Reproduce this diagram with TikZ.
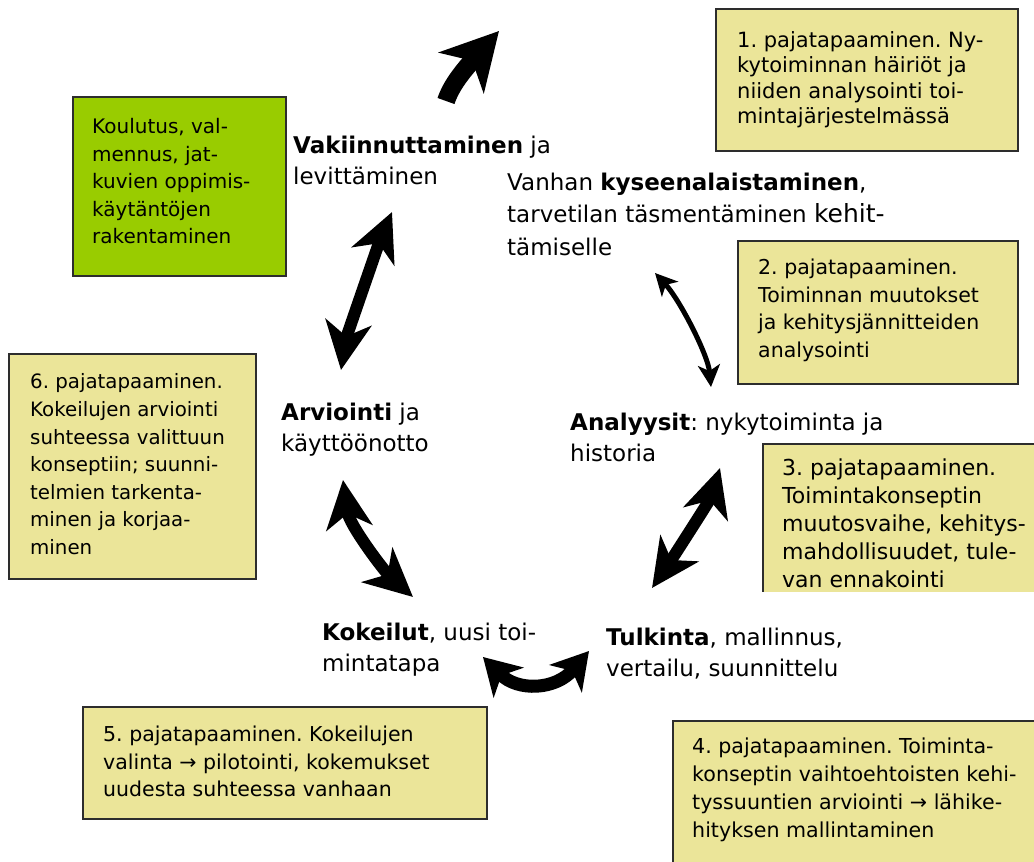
\documentclass[tikz,border=0pt]{standalone}
\usepackage{fontspec}
\setmainfont{DejaVu Sans}
\usetikzlibrary{arrows.meta}
\frenchspacing

\definecolor{boxyellow}{RGB}{235,229,153}
\definecolor{boxgreen}{RGB}{153,204,0}
\definecolor{boxline}{RGB}{45,45,45}

\begin{document}
\begin{tikzpicture}[
    x=1pt, y=-1pt,
    meeting/.style={draw=boxline, line width=1.6pt, fill=boxyellow, anchor=north west, inner sep=0pt},
    training/.style={meeting, fill=boxgreen},
    boxtext/.style={anchor=west, inner sep=0pt, align=left},
    phase/.style={anchor=base west, inner sep=0pt, align=left,
      font=\fontsize{23}{31}\selectfont},
    bigarrow/.style={line width=12pt,
      {Stealth[length=48pt,width=46pt,inset=14pt]}-{Stealth[length=48pt,width=46pt,inset=14pt]}},
    shortarrow/.style={line width=13pt,
      {Stealth[length=36pt,width=42pt,inset=10pt]}-{Stealth[length=36pt,width=42pt,inset=10pt]}},
    thinarrow/.style={line width=5pt,
      {Stealth[length=22pt,width=22pt,inset=6pt]}-{Stealth[length=22pt,width=22pt,inset=6pt]}},
    onearrow/.style={line width=18pt, -{Stealth[length=56pt,width=60pt,inset=16pt]}}
  ]
  \useasboundingbox (0,0) rectangle (1034,862);

  % pajatapaamiset
  \node[meeting, minimum width=302pt, minimum height=142pt] (m1) at (715,8) {};
  \node[boxtext, font=\fontsize{21}{25.5}\selectfont] (m1t) at ([xshift=22pt]m1.west)
    {1. pajatapaaminen. Ny-\\kytoiminnan häiriöt ja\\niiden analysointi toi-\\mintajärjestelmässä};

  \node[meeting, minimum width=280pt, minimum height=143pt] (m2) at (737,240) {};
  \node[boxtext, font=\fontsize{20.5}{27.5}\selectfont] (m2t) at ([xshift=21pt, yshift=2pt]m2.west)
    {2. pajatapaaminen.\\Toiminnan muutokset\\ja kehitysjännitteiden\\analysointi};

  \begin{scope}
    \clip (740,430) rectangle (1040,591);
    \node[meeting, minimum width=290pt, minimum height=170pt] (m3) at (762,443) {};
    \node[boxtext, font=\fontsize{22}{28}\selectfont] (m3t) at (782,523)
      {3. pajatapaaminen.\\Toimintakonseptin\\muutosvaihe, kehitys-\\mahdollisuudet, tule-\\van ennakointi};
  \end{scope}

  \node[meeting, minimum width=380pt, minimum height=160pt] (m4) at (672,720) {};
  \node[boxtext, font=\fontsize{20.6}{28}\selectfont] (m4t) at (692,790)
    {4. pajatapaaminen. Toiminta-\\konseptin vaihtoehtoisten kehi-\\tyssuuntien arviointi → lähike-\\hityksen mallintaminen};

  \node[meeting, minimum width=404pt, minimum height=112pt] (m5) at (82,706) {};
  \node[boxtext, font=\fontsize{20.5}{27.5}\selectfont] (m5t) at ([xshift=21pt, yshift=1pt]m5.west)
    {5. pajatapaaminen. Kokeilujen\\valinta → pilotointi, kokemukset\\uudesta suhteessa vanhaan};

  \node[meeting, minimum width=247pt, minimum height=225pt] (m6) at (8,353) {};
  \node[boxtext, font=\fontsize{19.8}{27.6}\selectfont] (m6t) at ([xshift=22pt, yshift=2pt]m6.west)
    {6. pajatapaaminen.\\Kokeilujen arviointi\\suhteessa valittuun\\konseptiin; suunni-\\telmien tarkenta-\\minen ja korjaa-\\minen};

  \node[training, minimum width=213pt, minimum height=179pt] (train) at (72,96) {};
  \node[boxtext, font=\fontsize{20}{27.5}\selectfont] (traint) at ([xshift=20pt, yshift=5pt]train.west)
    {Koulutus, val-\\mennus, jat-\\kuvien oppimis-\\käytäntöjen\\rakentaminen};

  % syklin vaiheet
  \node[phase] (vak) at (293,184) {\textbf{Vakiinnuttaminen} ja\\levittäminen};
  \node[phase, font=\fontsize{23}{32.5}\selectfont] (van) at (507,255)
    {Vanhan \textbf{kyseenalaistaminen},\\tarvetilan täsmentäminen {\fontsize{25}{32.5}\selectfont kehit-}\\tämiselle};
  \node[phase] (ana) at (570,461) {\textbf{Analyysit}: nykytoiminta ja\\historia};
  \node[phase] (tul) at (606,676) {\textbf{Tulkinta}, mallinnus,\\vertailu, suunnittelu};
  \node[phase] (kok) at (322,671) {\textbf{Kokeilut}, uusi toi-\\mintatapa};
  \node[phase] (arv) at (281,451) {\textbf{Arviointi} ja\\käyttöönotto};

  % nuolten päät
  \coordinate (up0) at (446,101);
  \coordinate (up1) at (499,31);
  \coordinate (vakS) at (392,212);
  \coordinate (arvN) at (341,370);
  \coordinate (vanS) at (655,273);
  \coordinate (anaN) at (711,387);
  \coordinate (anaS) at (720,468);
  \coordinate (tulN) at (652,588);
  \coordinate (tulW) at (589,651);
  \coordinate (kokE) at (483,657);
  \coordinate (arvS) at (343,480);
  \coordinate (kokN) at (413,597);

  \draw[onearrow] (up0) .. controls (451,86) and (462,72) .. (up1);
  \draw[bigarrow] (vakS) .. controls (380,240) and (346,338) .. (arvN);
  \draw[thinarrow] (vanS) .. controls (680,300) and (708,355) .. (anaN);
  \draw[bigarrow] (anaS) .. controls (710,500) and (670,562) .. (tulN);
  \draw[shortarrow] (kokE) .. controls (518,692) and (556,690) .. (tulW);
  \draw[bigarrow] (arvS) .. controls (349,525) and (385,572) .. (kokN);

\end{tikzpicture}
\end{document}
